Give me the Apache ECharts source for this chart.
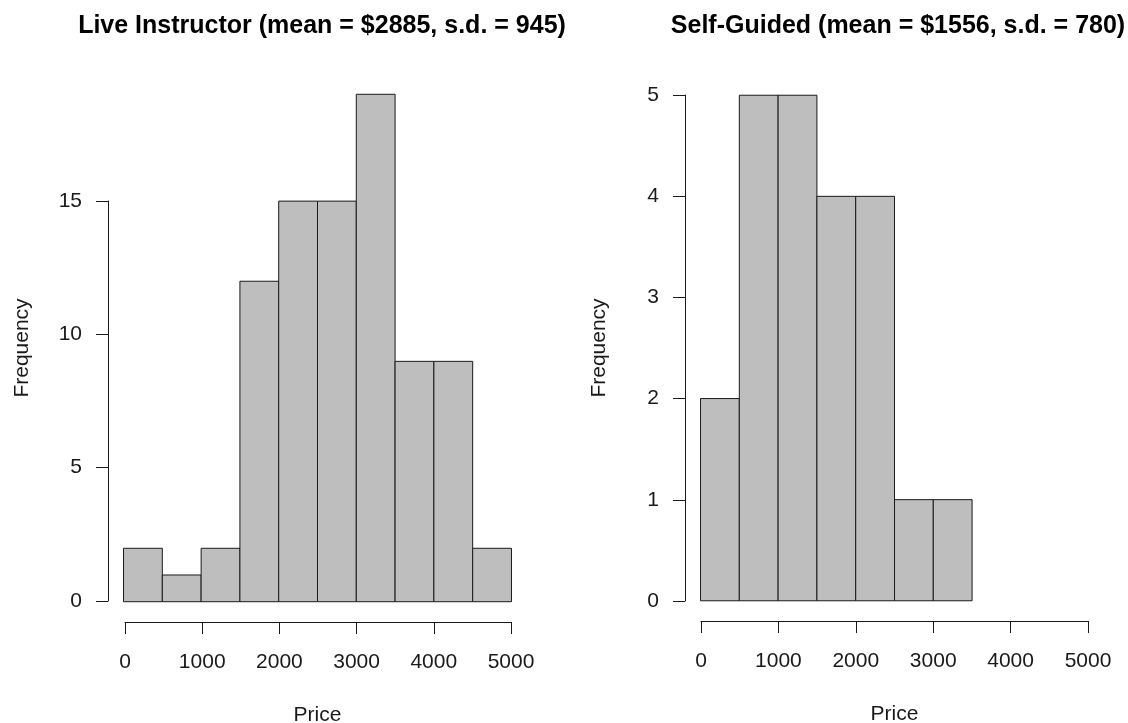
<!DOCTYPE html>
<html>
<head>
<meta charset="utf-8">
<title>Price histograms</title>
<script src="https://cdn.jsdelivr.net/npm/echarts@6/dist/echarts.min.js"></script>
<style>
  html, body { margin: 0; padding: 0; background: #ffffff; }
  #chart { width: 1128px; height: 723px; }
</style>
</head>
<body>
<div id="chart"></div>
<script>
// Histogram bins (price breaks, width 500)
const binStarts = [0, 500, 1000, 1500, 2000, 2500, 3000, 3500, 4000, 4500];
const binWidth = 500;

// Counts per bin
const liveCounts = [2, 1, 2, 12, 15, 15, 19, 9, 9, 2];
const selfCounts = [2, 5, 5, 4, 4, 1, 1];

// Panel titles
const liveTitle = 'Live Instructor (mean = $2885, s.d. = 945)';
const selfTitle = 'Self-Guided (mean = $1556, s.d. = 780)';

// Axis ticks
const priceTicks = [0, 1000, 2000, 3000, 4000, 5000];
const liveFreqMax = 15, liveFreqStep = 5;
const selfFreqMax = 5, selfFreqStep = 1;

const FONT = '"Liberation Sans", Arial, sans-serif';
const INK = '#1a1a1a';

function binData(counts) {
  return counts.map((c, i) => [binStarts[i], binStarts[i] + binWidth, c]);
}

function renderBar(params, api) {
  const p0 = api.coord([api.value(0), 0]);
  const p1 = api.coord([api.value(1), api.value(2)]);
  return {
    type: 'rect',
    shape: { x: p0[0], y: p1[1], width: p1[0] - p0[0], height: p0[1] - p1[1] },
    style: { fill: '#bebebe', stroke: INK, lineWidth: 1 }
  };
}

const hidden = { show: false };
const axisText = { color: INK, fontFamily: FONT, fontSize: 21 };

// panel geometry: plot region plus the spans covered by the tick ranges
const panels = [
  { counts: liveCounts, title: liveTitle, titleX: 317, yMax: liveFreqMax, yStep: liveFreqStep,
    plot: { left: 108, top: 74, width: 419, height: 548 }, yPad: 0.76, nameGap: 75,
    xAxisBox: { left: 125, width: 386 }, yAxisBox: { top: 201, height: 400 } },
  { counts: selfCounts, title: selfTitle, titleX: 893, yMax: selfFreqMax, yStep: selfFreqStep,
    plot: { left: 685, top: 75, width: 419, height: 546 }, yPad: 0.2, nameGap: 75,
    xAxisBox: { left: 701, width: 387 }, yAxisBox: { top: 95, height: 506 } }
];

const grid = [], xAxis = [], yAxis = [], series = [], title = [];

function box(o) {
  return Object.assign({ outerBoundsMode: 'none', containLabel: false }, o);
}

panels.forEach((p) => {
  const g = grid.length;
  const dataMax = Math.max(...p.counts);
  const topVal = Math.max(dataMax, p.yMax);
  // plot region (data grid)
  grid.push(box({ left: p.plot.left, top: p.plot.top, width: p.plot.width, height: p.plot.height }));
  xAxis.push({ gridIndex: g, type: 'value', min: -200, max: 5200,
    axisLine: hidden, axisTick: hidden, axisLabel: hidden, splitLine: hidden,
    name: 'Price', nameLocation: 'middle', nameGap: 83, nameTextStyle: axisText });
  yAxis.push({ gridIndex: g, type: 'value', min: -p.yPad, max: topVal + p.yPad,
    axisLine: hidden, axisTick: hidden, axisLabel: hidden, splitLine: hidden,
    name: 'Frequency', nameLocation: 'middle', nameGap: p.nameGap, nameTextStyle: axisText });
  series.push({ type: 'custom', xAxisIndex: g, yAxisIndex: g, data: binData(p.counts),
    renderItem: renderBar, encode: { x: [0, 1], y: 2 }, clip: false, silent: true });

  // x axis drawn along the bottom of the plot region over the tick span
  grid.push(box({ left: p.xAxisBox.left, width: p.xAxisBox.width, top: p.plot.top, height: p.plot.height }));
  xAxis.push({ gridIndex: g + 1, type: 'value', min: priceTicks[0], max: priceTicks[priceTicks.length - 1],
    interval: priceTicks[1] - priceTicks[0],
    axisLine: { show: true, lineStyle: { color: INK, width: 1 } },
    axisTick: { show: true, length: 12, lineStyle: { color: INK } },
    axisLabel: Object.assign({ margin: 30, formatter: (v) => String(v) }, axisText),
    splitLine: hidden });
  yAxis.push({ gridIndex: g + 1, type: 'value', show: false });

  // y axis drawn along the left of the plot region over the tick span
  grid.push(box({ left: p.plot.left, width: p.plot.width, top: p.yAxisBox.top, height: p.yAxisBox.height }));
  xAxis.push({ gridIndex: g + 2, type: 'value', show: false });
  yAxis.push({ gridIndex: g + 2, type: 'value', min: 0, max: p.yMax, interval: p.yStep,
    axisLine: { show: true, lineStyle: { color: INK, width: 1 } },
    axisTick: { show: true, length: 12, lineStyle: { color: INK } },
    axisLabel: Object.assign({ margin: 26, formatter: (v) => String(v) }, axisText),
    splitLine: hidden });

  title.push({ text: p.title, left: p.titleX, top: 9, textAlign: 'center',
    textStyle: { color: '#000', fontFamily: FONT, fontSize: 25, fontWeight: 'bold' } });
});

const chart = echarts.init(document.getElementById('chart'), null, { renderer: 'canvas' });
chart.setOption({
  animation: false,
  backgroundColor: '#ffffff',
  title, grid, xAxis, yAxis, series
});
</script>
</body>
</html>
